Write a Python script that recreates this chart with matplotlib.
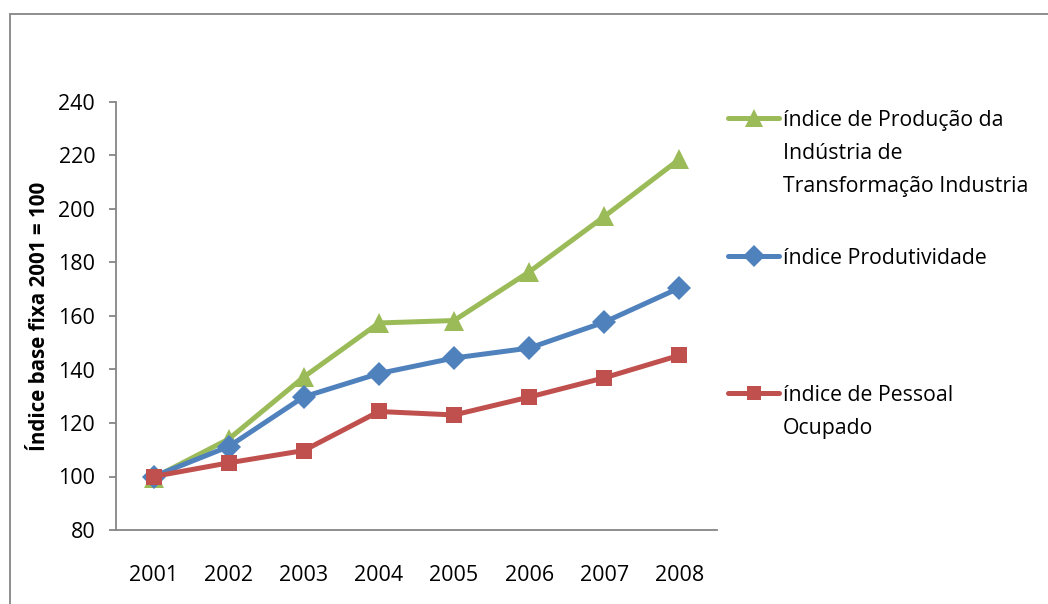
import matplotlib.pyplot as plt
from matplotlib.lines import Line2D
from matplotlib.patches import Rectangle

years = ['2001', '2002', '2003', '2004', '2005', '2006', '2007', '2008']
producao = [99.5, 114.0, 137.2, 157.4, 158.3, 176.5, 197.2, 218.6]
produtividade = [100.0, 111.2, 129.8, 138.5, 144.3, 148.0, 157.7, 170.5]
pessoal = [100.0, 105.1, 109.7, 124.3, 123.0, 129.7, 136.9, 145.3]

labels = ['índice de Produção da\nIndústria de\nTransformação Industria',
          'índice Produtividade',
          'índice de Pessoal\nOcupado']
colors = ['#9BBB59', '#4F81BD', '#C0504D']
markers = ['^', 'D', 's']
msizes = [15, 12, 11]
series = [producao, produtividade, pessoal]

plt.rcParams['font.family'] = ['Open Sans', 'DejaVu Sans']
axis_gray = '#868686'

fig = plt.figure(figsize=(10.48, 6.04), dpi=100)
W, H = 1048, 604
ax = fig.add_axes([116 / W, 1 - 530 / H, 601 / W, 428 / H])

x = list(range(len(years)))
for vals, c, m, ms in zip(series, colors, markers, msizes):
    ax.plot(x, vals, color=c, lw=3.6, marker=m, markersize=ms,
            markeredgewidth=0, solid_capstyle='round', clip_on=False)

ax.set_xlim(-0.5, 7.5)
ax.set_ylim(80, 240)
ax.set_yticks(range(80, 241, 20))
ax.set_xticks(x)
ax.set_xticklabels(years)
for s in ['top', 'right']:
    ax.spines[s].set_visible(False)
for s in ['left', 'bottom']:
    ax.spines[s].set_color(axis_gray)
    ax.spines[s].set_linewidth(1.3)
ax.tick_params(axis='y', length=5, width=1.3, color=axis_gray, pad=10, labelsize=15.5)
ax.tick_params(axis='x', length=0, pad=25, labelsize=15.5)
ax.set_ylabel('Índice base fixa 2001 = 100', fontsize=14.8, fontweight='bold', labelpad=6)

# legend drawn by hand so the marker sits on the first text line
leg_y = [118, 256, 393]
for lab, c, m, ms, yy in zip(labels, colors, markers, msizes, leg_y):
    fy = 1 - yy / H
    fig.add_artist(Line2D([728 / W, 779 / W], [fy, fy], color=c, lw=3.6,
                          solid_capstyle='round', transform=fig.transFigure))
    fig.add_artist(Line2D([753.5 / W], [fy], color=c, marker=m, markersize=ms * 0.9,
                          markeredgewidth=0, transform=fig.transFigure))
    fig.text(783 / W, fy + 8 / H, lab, fontsize=15.3, va='top', ha='left',
             linespacing=1.75)

# outer chart frame (cut off at the right and bottom edges)
fig.add_artist(Rectangle((10 / W, -0.1), 1.2, 1 - 14 / H + 0.1, fill=False,
                         edgecolor=axis_gray, lw=1.3, transform=fig.transFigure))

fig.savefig('out.png', dpi=100, facecolor='white')
